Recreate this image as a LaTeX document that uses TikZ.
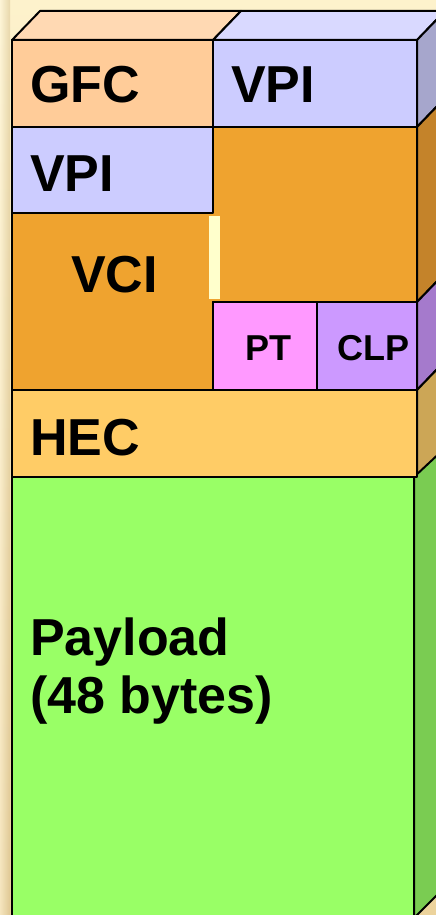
\documentclass[tikz,border=0pt]{standalone}
\usepackage{fontspec}
\setmainfont{Liberation Sans}
\definecolor{bgTop}{HTML}{FDF2CC}
\definecolor{bgBot}{HTML}{ECD39C}
\definecolor{gfcF}{HTML}{FFCC99}
\definecolor{gfcT}{HTML}{FFD9B3}
\definecolor{vpiF}{HTML}{CCCCFF}
\definecolor{vpiT}{HTML}{D9D9FF}
\definecolor{vpiS}{HTML}{A6A6CC}
\definecolor{vciF}{HTML}{EFA32F}
\definecolor{vciS}{HTML}{C4832A}
\definecolor{ptF}{HTML}{FF99FF}
\definecolor{clpF}{HTML}{CC99FF}
\definecolor{clpS}{HTML}{A57ACC}
\definecolor{hecF}{HTML}{FFCC66}
\definecolor{hecS}{HTML}{CCA656}
\definecolor{payF}{HTML}{99FF66}
\definecolor{payS}{HTML}{7ACC52}
\definecolor{barC}{HTML}{FFFFCC}
\tikzset{
  face/.style={draw=black, line width=2pt, line join=round},
  big/.style={font=\fontsize{52}{57}\selectfont\bfseries, inner sep=0pt, anchor=base west},
  small/.style={font=\fontsize{36}{40}\selectfont\bfseries, inner sep=0pt, anchor=base west}
}
\begin{document}
\begin{tikzpicture}[x=1pt,y=-1pt]
\useasboundingbox (0,0) rectangle (436,915);
\clip (0,0) rectangle (436,915);
% background
\shade[top color=bgTop, bottom color=bgBot] (0,0) rectangle (436,915);
\shade[left color=bgTop!60!white, right color=bgBot!90!black, opacity=0.5] (0,0) rectangle (10,915);
% top faces
\filldraw[face, fill=gfcT] (12,40) -- (40,11) -- (241,11) -- (213,40) -- cycle;
\filldraw[face, fill=vpiT] (213,40) -- (241,11) -- (445,11) -- (417,40) -- cycle;
% side faces
\filldraw[face, fill=vpiS] (417,40) -- (445,11) -- (445,98) -- (417,127) -- cycle;
\filldraw[face, fill=vciS] (417,127) -- (445,98) -- (445,273) -- (417,302) -- cycle;
\filldraw[face, fill=clpS] (417,302) -- (445,273) -- (445,361) -- (417,390) -- cycle;
\filldraw[face, fill=hecS] (417,390) -- (445,361) -- (445,448) -- (417,477) -- cycle;
\filldraw[face, fill=payS] (414,477) -- (445,448) -- (445,887) -- (416,916) -- (414,916) -- cycle;
% front faces
\filldraw[face, fill=gfcF] (12,40) rectangle (213,127);
\filldraw[face, fill=vpiF] (213,40) rectangle (417,127);
\filldraw[face, fill=vpiF] (12,127) rectangle (213,213);
\filldraw[face, fill=vciF] (12,213) -- (213,213) -- (213,127) -- (417,127) -- (417,302) -- (213,302) -- (213,390) -- (12,390) -- cycle;
\fill[barC] (209,216) rectangle (220,299);
\filldraw[face, fill=ptF] (213,302) rectangle (317,390);
\filldraw[face, fill=clpF] (317,302) rectangle (417,390);
\filldraw[face, fill=hecF] (12,390) rectangle (417,477);
\filldraw[face, fill=payF] (12,477) rectangle (414,918);
% labels
\node[big] (gfc) at (30,103) {GFC};
\node[big] (vpiA) at (231,103) {VPI};
\node[big] (vpiB) at (30,191) {VPI};
\node[big] (vci) at (71,292) {VCI};
\node[small] (pt) at (245,360) {PT};
\node[small] (clp) at (337,360) {CLP};
\node[big] (hec) at (30,455) {HEC};
\node[big] (payA) at (30,655) {Payload};
\node[big] (payB) at (30,713) {(48 bytes)};
\end{tikzpicture}
\end{document}
